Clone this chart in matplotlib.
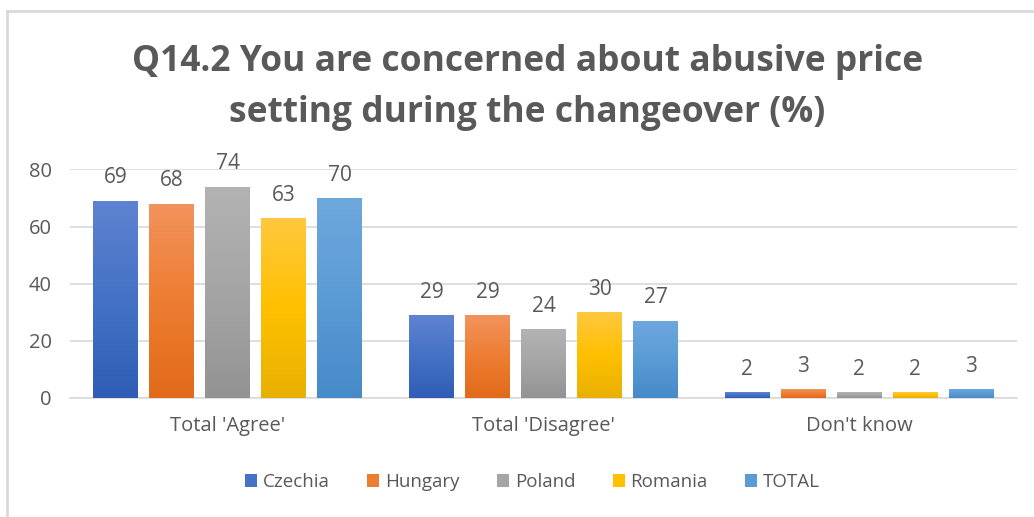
import numpy as np
import matplotlib.pyplot as plt
from matplotlib.colors import LinearSegmentedColormap
from matplotlib.patches import Patch
from matplotlib.lines import Line2D

categories = ["Total 'Agree'", "Total 'Disagree'", "Don't know"]
countries = ["Czechia", "Hungary", "Poland", "Romania", "TOTAL"]
czechia = [69, 29, 2]
hungary = [68, 29, 3]
poland = [74, 24, 2]
romania = [63, 30, 2]
total = [70, 27, 3]
series = [czechia, hungary, poland, romania, total]

# (top, middle, bottom) shades for the gradient fill of each series
shades = [
    ("#5f83d2", "#4472c4", "#2f5db6"),
    ("#f2935d", "#ed7d31", "#e26a1a"),
    ("#b3b3b3", "#a5a5a5", "#939393"),
    ("#ffc83f", "#ffc000", "#e8b000"),
    ("#6da8dd", "#5b9bd5", "#468ac9"),
]
legend_colors = ["#4472c4", "#ed7d31", "#a5a5a5", "#ffc000", "#5b9bd5"]

plt.rcParams['font.family'] = ['Open Sans', 'DejaVu Sans']
text_color = "#595959"

fig = plt.figure(figsize=(10.34, 5.17), dpi=100)
ax = fig.add_axes([0.0677, 0.2302, 0.9159, 0.4420])

x = np.arange(len(categories))
step = 0.1774
width = 0.1425
grad = np.linspace(0, 1, 256).reshape(-1, 1)

for i, (vals, cols) in enumerate(zip(series, shades)):
    pos = x + (i - 2) * step
    bars = ax.bar(pos, vals, width, color="none", edgecolor="none", zorder=3)
    cmap = LinearSegmentedColormap.from_list(countries[i], list(cols))
    for b, v in zip(bars, vals):
        x0 = b.get_x()
        im = ax.imshow(grad, cmap=cmap, aspect="auto", origin="upper",
                       extent=[x0, x0 + width, 0, v], zorder=3)
        im.set_clip_path(b)
        ax.annotate(str(v), (b.get_x() + width / 2, v), xytext=(0, 9),
                    textcoords="offset points", ha="center", va="bottom",
                    fontsize=15, color=text_color, annotation_clip=False)

ax.set_xlim(-0.5, 2.5)
ax.set_ylim(0, 80)
ax.set_yticks([0, 20, 40, 60, 80])
ax.set_xticks(x)
ax.set_xticklabels(categories)
ax.tick_params(axis="both", length=0, labelsize=14.5, labelcolor=text_color)
ax.tick_params(axis="x", pad=13)
ax.tick_params(axis="y", pad=13)
ax.grid(axis="y", color="#d9d9d9", linewidth=1.2, zorder=0)
ax.set_axisbelow(True)
for side in ["top", "right", "left"]:
    ax.spines[side].set_visible(False)
ax.spines["bottom"].set_color("#d9d9d9")
ax.spines["bottom"].set_linewidth(1.2)
ax.spines["bottom"].set_zorder(2)

fig.text(0.51, 0.830, "Q14.2 You are concerned about abusive price\nsetting during the changeover (%)",
         ha="center", va="center", fontsize=25.5, fontweight="bold", color=text_color,
         linespacing=1.55)

handles = [Patch(facecolor=c, edgecolor="none") for c in legend_colors]
fig.legend(handles, countries, loc="center", bbox_to_anchor=(0.515, 0.068), ncol=5,
           frameon=False, fontsize=13.5, labelcolor=text_color, handlelength=0.65,
           handleheight=0.65, handletextpad=0.3, columnspacing=2.0)

# outer chart frame
fig.add_artist(Line2D([0.0068, 1.0], [0.979, 0.979], color="#d9d9d9", linewidth=2))
fig.add_artist(Line2D([0.0068, 0.0068], [0.0, 0.979], color="#d9d9d9", linewidth=2))

fig.savefig("out.png", dpi=100)
